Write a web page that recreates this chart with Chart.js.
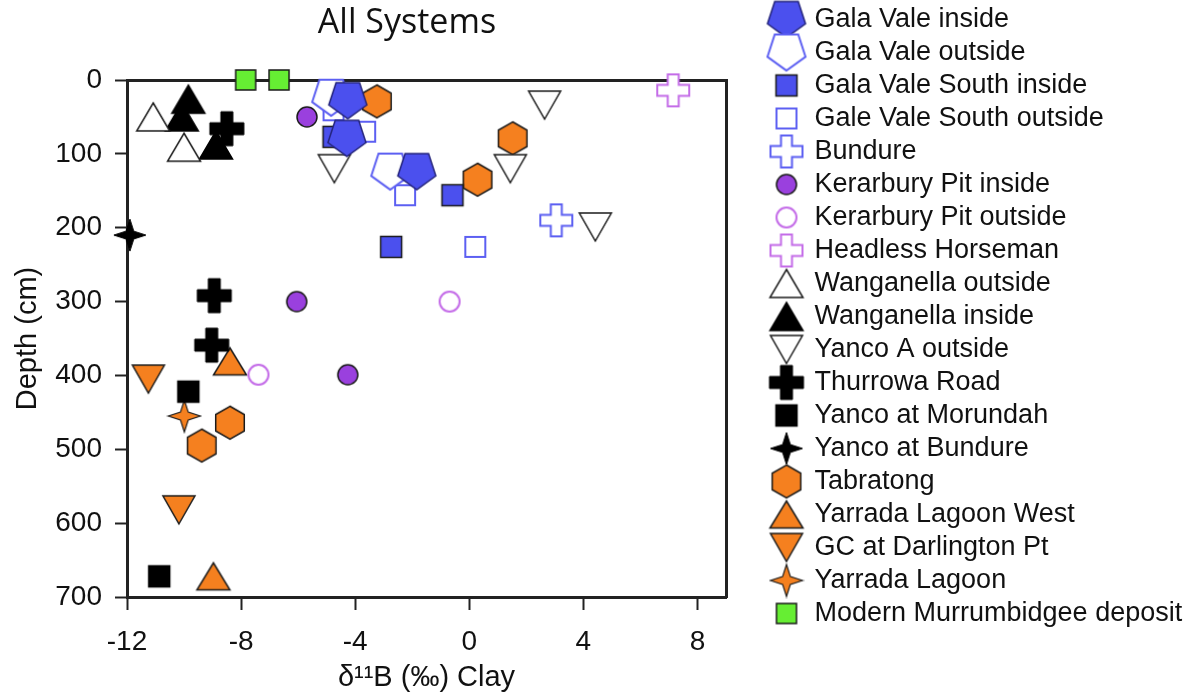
<!DOCTYPE html>
<html>
<head>
<meta charset="utf-8">
<script src="https://cdn.jsdelivr.net/npm/chart.js@4.4.1/dist/chart.umd.min.js"></script>
<style>
  html, body { margin: 0; padding: 0; background: #fff; }
  #wrap { width: 1199px; height: 695px; }
</style>
</head>
<body>
<div id="wrap"><canvas id="chart" width="1199" height="695"></canvas></div>
<script>
// depth profiles, d11B (x) vs depth in cm (y)
const galaValeInsideX = [-4.26, -4.29, -1.84];
const galaValeInsideY = [28, 79, 124];
const galaValeOutsideX = [-4.84, -2.77];
const galaValeOutsideY = [24, 124];
const gvSouthInsideX = [-4.76, -0.59, -2.74];
const gvSouthInsideY = [77, 156, 226];
const gvSouthOutsideX = [-4.76, -3.65, -2.25, 0.21];
const gvSouthOutsideY = [41, 70, 156, 226];
const bundureX = [3.05];
const bundureY = [190];
const kerarburyInsideX = [-5.69, -6.05, -4.26];
const kerarburyInsideY = [50, 300, 399];
const kerarburyOutsideX = [-0.69, -7.39];
const kerarburyOutsideY = [300, 399];
const headlessX = [7.15];
const headlessY = [14];
const wanganellaOutsideX = [-11.08, -10.0];
const wanganellaOutsideY = [50, 91];
const wanganellaInsideX = [-9.85, -10.08, -8.88];
const wanganellaInsideY = [26, 50, 88];
const yancoAOutsideX = [-4.73, 1.44, 2.64, 4.42];
const yancoAOutsideY = [120, 120, 34, 199];
const thurrowaX = [-8.5, -8.94, -9.03];
const thurrowaY = [66, 292, 359];
const morundahX = [-9.85, -10.87];
const morundahY = [422, 672];
const yancoBundureX = [-11.9];
const yancoBundureY = [210];
const tabratongX = [-3.24, 1.52, 0.29, -8.39, -9.38];
const tabratongY = [29, 79, 135, 464, 495];
const yarradaWestX = [-8.39, -8.97];
const yarradaWestY = [381, 672];
const darlingtonX = [-11.25, -10.18];
const darlingtonY = [405, 582];
const yarradaX = [-9.99];
const yarradaY = [455];
const modernX = [-7.84, -6.67];
const modernY = [0, 0];

const xTickValues = [-12, -8, -4, 0, 4, 8];
const yTickValues = [0, 100, 200, 300, 400, 500, 600, 700];

const BLUE = '#4b50ee', BLUE_LINE = '#5c5ff2', ORANGE = '#f5801f', PURPLE = '#9a40de',
      LILAC = '#c46ce8', GREEN = '#66ee33', DARK = '#1b1b1b';

// ---- marker images (used for points and legend) ----
function marker(w, h, path, fill, stroke, lw) {
  const c = document.createElement('canvas');
  c.width = w; c.height = h;
  const g = c.getContext('2d');
  g.translate(w / 2, h / 2);
  g.beginPath();
  path(g);
  g.closePath();
  g.fillStyle = fill;
  g.fill();
  g.lineWidth = lw;
  g.strokeStyle = stroke;
  g.lineJoin = 'miter';
  g.stroke();
  return c;
}
const poly = pts => g => { g.moveTo(pts[0][0], pts[0][1]); pts.slice(1).forEach(p => g.lineTo(p[0], p[1])); };
function regular(n, R, a0, dy) {
  const pts = [];
  for (let k = 0; k < n; k++) {
    const a = a0 + k * 2 * Math.PI / n;
    pts.push([R * Math.cos(a), R * Math.sin(a) + dy]);
  }
  return poly(pts);
}
const pentagon = R => regular(5, R, Math.PI / 2, -0.0955 * R);
const hexagon = R => regular(6, R, -Math.PI / 2, 0);
const triUp = (w, h) => poly([[0, -h / 2], [w / 2, h / 2], [-w / 2, h / 2]]);
const triDown = (w, h) => poly([[0, h / 2], [w / 2, -h / 2], [-w / 2, -h / 2]]);
const square = s => poly([[-s / 2, -s / 2], [s / 2, -s / 2], [s / 2, s / 2], [-s / 2, s / 2]]);
const circle = r => g => g.arc(0, 0, r, 0, Math.PI * 2);
function cross(s, t) {
  const a = s / 2, b = t / 2;
  return poly([[-b, -a], [b, -a], [b, -b], [a, -b], [a, b], [b, b], [b, a], [-b, a], [-b, b], [-a, b], [-a, -b], [-b, -b]]);
}
function star4(R, r) {
  const pts = [];
  for (let k = 0; k < 8; k++) {
    const a = -Math.PI / 2 + k * Math.PI / 4;
    const rr = k % 2 ? r : R;
    pts.push([rr * Math.cos(a), rr * Math.sin(a)]);
  }
  return poly(pts);
}

const mk = {
  gvIn: marker(46, 44, pentagon(20), BLUE, '#23237a', 1.5),
  gvOut: marker(46, 44, pentagon(20), '#ffffff', BLUE_LINE, 2),
  gvsIn: marker(26, 26, square(21), BLUE, DARK, 1.5),
  gvsOut: marker(26, 26, square(20), '#ffffff', BLUE_LINE, 2),
  bundure: marker(38, 38, cross(32, 11), '#ffffff', BLUE_LINE, 2),
  kerIn: marker(26, 26, circle(10), PURPLE, DARK, 1.5),
  kerOut: marker(26, 26, circle(10), '#ffffff', LILAC, 2),
  headless: marker(38, 38, cross(32, 11), '#ffffff', LILAC, 2),
  wangOut: marker(38, 34, triUp(33, 28), '#ffffff', DARK, 1.5),
  wangIn: marker(38, 34, triUp(33, 28), '#000000', '#000000', 1.5),
  yancoA: marker(38, 34, triDown(32, 28), '#ffffff', DARK, 1.5),
  thurrowa: marker(38, 38, cross(34, 12), '#000000', '#000000', 1),
  morundah: marker(26, 26, square(21), '#000000', '#000000', 1.5),
  yancoB: marker(36, 36, star4(16, 5.5), '#000000', '#000000', 1),
  tabratong: marker(34, 38, hexagon(16.5), ORANGE, DARK, 1.5),
  yarradaW: marker(38, 34, triUp(33, 27), ORANGE, DARK, 1.5),
  darlington: marker(38, 34, triDown(32, 28), ORANGE, DARK, 1.5),
  yarrada: marker(36, 36, star4(16, 5.5), ORANGE, DARK, 1.2),
  modern: marker(26, 26, square(20), GREEN, DARK, 1.5)
};

const pts = (xs, ys) => xs.map((x, i) => ({ x: x, y: ys[i] }));
const ds = (label, xs, ys, style) => ({
  label: label, data: pts(xs, ys), pointStyle: style, pointRadius: 12,
  pointHoverRadius: 12, showLine: false, clip: false,
  backgroundColor: '#000', borderColor: '#000'
});

const datasets = [
  ds('Gala Vale inside', galaValeInsideX, galaValeInsideY, mk.gvIn),
  ds('Gala Vale outside', galaValeOutsideX, galaValeOutsideY, mk.gvOut),
  ds('Gala Vale South inside', gvSouthInsideX, gvSouthInsideY, mk.gvsIn),
  ds('Gale Vale South outside', gvSouthOutsideX, gvSouthOutsideY, mk.gvsOut),
  ds('Bundure', bundureX, bundureY, mk.bundure),
  ds('Kerarbury Pit inside', kerarburyInsideX, kerarburyInsideY, mk.kerIn),
  ds('Kerarbury Pit outside', kerarburyOutsideX, kerarburyOutsideY, mk.kerOut),
  ds('Headless Horseman', headlessX, headlessY, mk.headless),
  ds('Wanganella outside', wanganellaOutsideX, wanganellaOutsideY, mk.wangOut),
  ds('Wanganella inside', wanganellaInsideX, wanganellaInsideY, mk.wangIn),
  ds('Yanco A outside', yancoAOutsideX, yancoAOutsideY, mk.yancoA),
  ds('Thurrowa Road', thurrowaX, thurrowaY, mk.thurrowa),
  ds('Yanco at Morundah', morundahX, morundahY, mk.morundah),
  ds('Yanco at Bundure', yancoBundureX, yancoBundureY, mk.yancoB),
  ds('Tabratong', tabratongX, tabratongY, mk.tabratong),
  ds('Yarrada Lagoon West', yarradaWestX, yarradaWestY, mk.yarradaW),
  ds('GC at Darlington Pt', darlingtonX, darlingtonY, mk.darlington),
  ds('Yarrada Lagoon', yarradaX, yarradaY, mk.yarrada),
  ds('Modern Murrumbidgee deposit', modernX, modernY, mk.modern)
];

// title sits over the left part, not centred on the plot box
const titlePlugin = {
  id: 'sideTitle',
  afterDraw(chart) {
    const ctx = chart.ctx;
    ctx.save();
    ctx.font = '34px "Open Sans"';
    ctx.fillStyle = '#111';
    ctx.textAlign = 'center';
    ctx.textBaseline = 'middle';
    ctx.fillText('All Systems', 407, 23);
    ctx.restore();
  }
};

const SANS = '"Liberation Sans", Arial, sans-serif';
const tickGrid = len => ({ display: true, drawOnChartArea: false, drawTicks: true, tickLength: len, tickWidth: 2, tickColor: '#222' });
const frame = { display: true, width: 3, color: '#222' };

new Chart(document.getElementById('chart'), {
  type: 'scatter',
  data: { datasets: datasets },
  options: {
    responsive: false,
    animation: false,
    events: [],
    layout: { padding: { top: 0, left: 0, bottom: 0, right: 13 } },
    scales: {
      x: {
        type: 'linear', position: 'bottom', min: -12, max: 9,
        afterBuildTicks: s => { s.ticks = xTickValues.map(v => ({ value: v })); },
        afterFit: s => { s.height = 98; },
        grid: tickGrid(13),
        border: frame,
        ticks: { font: { family: SANS, size: 28 }, color: '#111', padding: 15, maxRotation: 0 },
        title: { display: true, text: 'δ¹¹B (‰) Clay', font: { family: SANS, size: 29 }, color: '#111', padding: { top: 0, bottom: 0 } }
      },
      y: {
        type: 'linear', position: 'left', min: 0, max: 700, reverse: true,
        afterBuildTicks: s => { s.ticks = yTickValues.map(v => ({ value: v })); },
        afterFit: s => { s.width = 127; },
        grid: tickGrid(12),
        border: frame,
        ticks: { font: { family: SANS, size: 28 }, color: '#111', padding: 13 },
        title: { display: true, text: 'Depth (cm)', font: { family: SANS, size: 29 }, color: '#111', padding: { top: 11, bottom: 0 } }
      },
      x2: {
        type: 'linear', position: 'top', min: -12, max: 9,
        afterFit: s => { s.height = 80; },
        grid: { display: false },
        border: frame,
        ticks: { display: false }
      },
      y2: {
        type: 'linear', position: 'right', min: 0, max: 700,
        afterFit: s => { s.width = 40; },
        grid: { display: false },
        border: frame,
        ticks: { display: false }
      }
    },
    plugins: {
      title: { display: false },
      tooltip: { enabled: false },
      legend: {
        display: true,
        position: 'right',
        align: 'start',
        maxWidth: 420,
        labels: {
          usePointStyle: true,
          pointStyleWidth: 29,
          padding: 6,
          color: '#111',
          font: { family: SANS, size: 27 }
        }
      }
    }
  },
  plugins: [titlePlugin]
});
</script>
</body>
</html>
